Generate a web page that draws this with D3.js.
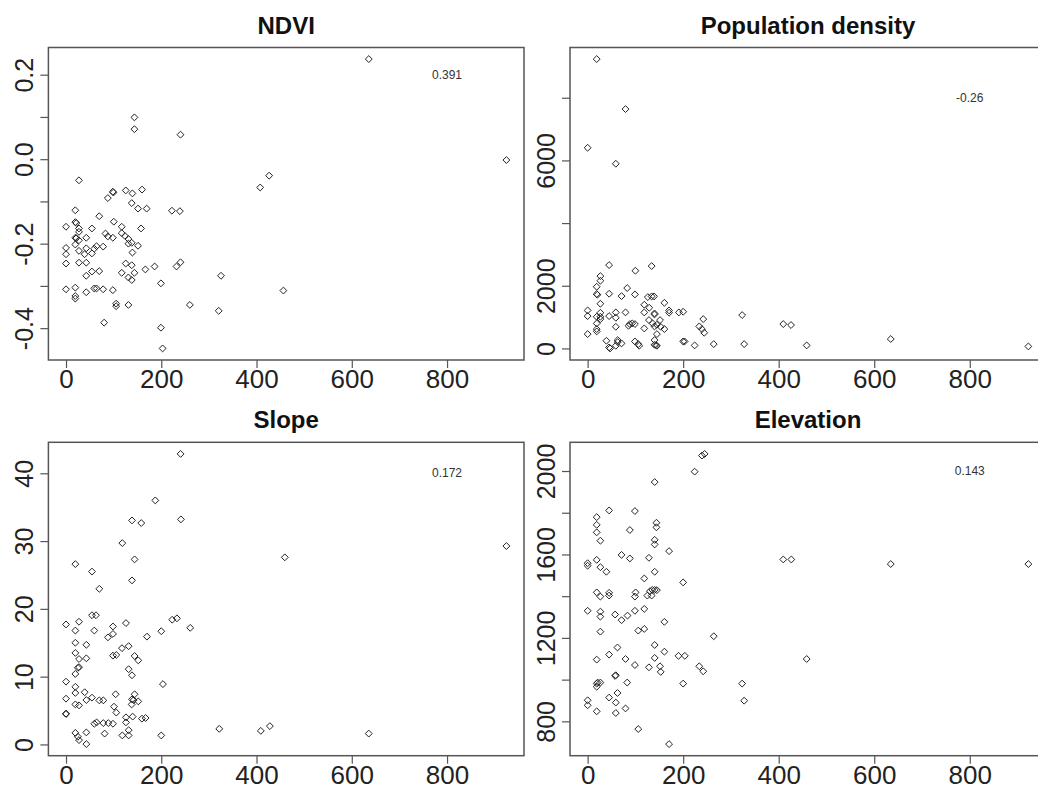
<!DOCTYPE html>
<html>
<head>
<meta charset="utf-8">
<script src="https://cdn.jsdelivr.net/npm/d3@7"></script>
<style>
  body { margin: 0; background: #fff; }
  svg { display: block; font-family: 'Liberation Sans', Arial, sans-serif; }
</style>
</head>
<body>
<svg id="chart" width="1038" height="794"></svg>
<script>
'use strict';

// shared x axis ticks
var xTicks = [0, 200, 400, 600, 800];

// NDVI
var ndviPoints = [
  [143.6, 0.099], [143.6, 0.071], [240.4, 0.058], [27.2, -0.050], [407.7, -0.067], [426.5, -0.039],
  [98.3, -0.077], [99.5, -0.079], [125.4, -0.074], [139.4, -0.081], [159.6, -0.072], [87.8, -0.092],
  [138, -0.104], [151.2, -0.117], [169.3, -0.117], [222.3, -0.122], [239, -0.123], [19.5, -0.121],
  [69.7, -0.135], [19.5, -0.149], [21.6, -0.151], [0, -0.160], [27.2, -0.164], [27.2, -0.172],
  [54.4, -0.164], [100.3, -0.148], [117, -0.160], [157.5, -0.164], [19.5, -0.186], [21.6, -0.187],
  [27.2, -0.192], [42.5, -0.186], [82.9, -0.176], [87.8, -0.183], [98.3, -0.186], [117, -0.175],
  [124, -0.182], [131, -0.189], [131, -0.200], [138, -0.198], [151.2, -0.205], [139.4, -0.221],
  [19.5, -0.202], [0, -0.210], [0, -0.225], [27.2, -0.217], [42.5, -0.211], [39, -0.225],
  [54.4, -0.223], [59.2, -0.212], [64.1, -0.206], [78, -0.207], [0, -0.247], [27.2, -0.245],
  [42.5, -0.245], [42.5, -0.276], [54.4, -0.266], [69.7, -0.265], [125.4, -0.247], [138, -0.251],
  [117, -0.269], [131, -0.280], [138, -0.286], [143.6, -0.269], [166.6, -0.261], [186, -0.254],
  [232, -0.254], [240.4, -0.244], [0, -0.308], [19.5, -0.304], [19.5, -0.324], [19.5, -0.330],
  [42.5, -0.315], [59.2, -0.306], [64.1, -0.306], [78, -0.308], [98.3, -0.310], [199.3, -0.294],
  [105.2, -0.342], [105.2, -0.348], [131, -0.345], [260, -0.345], [320.6, -0.359], [325.4, -0.276],
  [456.4, -0.311], [80, -0.387], [199.3, -0.399], [202.8, -0.448], [635.7, 0.237], [924.6, -0.002]
];
var ndviTicks = [-0.4, -0.3, -0.2, -0.1, 0, 0.1, 0.2];
var ndviLabels = ['-0.4', '', '-0.2', '', '0.0', '', '0.2'];

// Population density
var popPoints = [
  [19, 9234], [79.3, 7638], [0, 6404], [59, 5894], [45, 2660], [134, 2628], [100, 2479],
  [26.7, 2309], [26.7, 2160], [19, 1968], [19, 1734], [20.4, 1713], [45, 1745], [71, 1670],
  [82.8, 1926], [99, 1723], [126, 1638], [134, 1660], [139, 1660], [160.7, 1457], [0, 1213],
  [0, 1032], [26.7, 1426], [26.7, 1138], [19, 1011], [26.7, 1011], [45, 1032], [59, 1149],
  [59, 979], [79.3, 1149], [118.6, 1394], [118.6, 1149], [129, 1298], [140, 1117], [140, 1085],
  [170.5, 1213], [170.5, 1138], [191, 1149], [200, 1170], [242, 936], [323.5, 1064], [19, 798],
  [19, 617], [19, 543], [26.7, 936], [0, 457], [59, 691], [85.6, 723], [88.4, 777], [93.3, 798],
  [99, 777], [128.4, 904], [136, 798], [140, 702], [151.6, 904], [145, 755], [153, 691],
  [160.7, 617], [145, 457], [118.6, 638], [233.7, 702], [239.3, 617], [244, 500], [39.3, 245],
  [45, 32], [47, 0], [63, 266], [63, 202], [59, 85], [71, 160], [99, 223], [106, 138], [108, 85],
  [140, 266], [140, 117], [143, 106], [145, 85], [200, 223], [203, 223], [224, 96], [264, 138],
  [327.7, 138], [409.6, 778], [425.8, 746], [458.6, 96], [634.6, 300], [922.7, 64]
];
var popTicks = [0, 2000, 4000, 6000, 8000];
var popLabels = ['0', '2000', '', '6000', ''];

// Slope
var slopePoints = [
  [240.6, 42.86], [187.4, 36.0], [241.3, 33.2], [138.5, 33.05], [158, 32.66], [118.2, 29.7],
  [144, 27.3], [19.6, 26.6], [54.5, 25.5], [138.5, 24.2], [69.9, 22.96], [54.5, 19.06],
  [62.9, 19.06], [0, 17.7], [27.3, 18.1], [98.6, 17.4], [125.9, 17.9], [223, 18.4], [232.9, 18.6],
  [260.8, 17.2], [19.6, 16.8], [59.4, 16.8], [98.6, 16.3], [88.1, 15.8], [170, 15.9], [200, 16.7],
  [19.6, 15.0], [42.7, 14.7], [131.5, 14.5], [117.5, 14.2], [19.6, 13.5], [27.3, 12.6],
  [42.7, 12.7], [98.6, 13.1], [105.6, 13.2], [144, 13.05], [151.7, 12.4], [27.3, 11.4], [25, 11.3],
  [131.5, 11.1], [138.5, 10.2], [19.6, 10.4], [0, 9.26], [203.5, 8.9], [19.6, 8.5], [19.6, 7.6],
  [39.2, 7.7], [104.2, 7.4], [0, 6.75], [42.7, 6.55], [54.5, 6.9], [69.9, 6.5], [78.3, 6.5],
  [138.5, 6.65], [144, 7.4], [142, 6.55], [151.7, 6.35], [19.6, 5.9], [27.3, 5.76], [100.7, 5.57],
  [105.6, 4.7], [0, 4.48], [0, 4.55], [137.8, 5.9], [59.4, 3.05], [64.3, 3.25], [78.3, 3.15],
  [88.8, 3.15], [98.6, 3.05], [125.9, 3.25], [125.9, 4.0], [139.9, 4.1], [159.4, 3.8], [167.1, 3.9],
  [131.5, 2.1], [131.5, 1.33], [118.2, 1.33], [81.1, 1.6], [19.6, 1.7], [25, 1.13], [27.3, 0.64],
  [42.7, 1.77], [42.7, 0.05], [200, 1.33], [321.7, 2.3], [409, 2.0], [428, 2.7], [459.4, 27.6],
  [924.6, 29.27], [635.6, 1.6]
];
var slopeTicks = [0, 10, 20, 30, 40];
var slopeLabels = ['0', '10', '20', '30', '40'];

// Elevation
var elevPoints = [
  [239.3, 2074], [245, 2082], [224, 1997], [140.4, 1947], [45, 1811], [99, 1808], [19, 1779],
  [19, 1742], [19, 1706], [26.7, 1666], [88.4, 1717], [144, 1752], [144, 1730], [140.4, 1670],
  [140.4, 1648], [170.5, 1616], [71, 1598], [88.4, 1581], [128.4, 1584], [19, 1574], [0, 1558],
  [0, 1546], [26.7, 1539], [39.3, 1517], [140.4, 1517], [118.6, 1485], [200, 1466], [19, 1418],
  [26.7, 1398], [45, 1416], [45, 1403], [100.4, 1418], [99, 1398], [125, 1403], [134, 1403],
  [135.4, 1430], [140.4, 1430], [145, 1429], [130.5, 1424], [0, 1330], [26.7, 1326], [26.7, 1302],
  [57.5, 1312], [71, 1285], [83.5, 1307], [99, 1330], [118.6, 1339], [160.7, 1277], [26.7, 1230],
  [106, 1235], [118.6, 1243], [264, 1208], [140.4, 1166], [62.5, 1154], [160.7, 1134], [45, 1120],
  [190.2, 1114], [203.5, 1114], [19, 1096], [79.3, 1099], [140.4, 1104], [99, 1070], [128.4, 1059],
  [151.6, 1064], [153, 1037], [233.7, 1064], [242, 1040], [57.5, 1018], [59, 1021], [82.8, 986],
  [26.7, 986], [19, 981], [21, 986], [19, 966], [200, 981], [323.5, 981], [327.7, 899], [45, 914],
  [62.5, 936], [0, 901], [0, 877], [59, 890], [79.3, 862], [19, 848], [59, 840], [106, 763],
  [170.5, 691], [409.6, 1576], [426.4, 1576], [458.6, 1099], [634.6, 1554], [922.7, 1554]
];
var elevTicks = [800, 1000, 1200, 1400, 1600, 1800, 2000];
var elevLabels = ['800', '', '1200', '', '1600', '', '2000'];

// correlation notes, written at x = 800 and the top tick
var noteTexts = ['0.391', '-0.26', '0.172', '0.143'];
var noteY = [0.2, 8000, 40, 2000];

var titles = ['NDVI', 'Population density', 'Slope', 'Elevation'];

var panels = [
  {points: ndviPoints, ticks: ndviTicks, labels: ndviLabels},
  {points: popPoints, ticks: popTicks, labels: popLabels},
  {points: slopePoints, ticks: slopeTicks, labels: slopeLabels},
  {points: elevPoints, ticks: elevTicks, labels: elevLabels}
];

// plot box edges, left/right per column and top/bottom per row
var cols = [[48.4, 524], [570, 1046]],
    rows = [[47.5, 360], [442.3, 755.7]];

var svg = d3.select('#chart'),
    ink = '#222',
    frame = '#555';

// R-style axis range: data extent plus 4% on each side
var padExtent = function (values) {
  var e = d3.extent(values),
      pad = (e[1] - e[0]) * 0.04;
  return [e[0] - pad, e[1] + pad];
};

panels.forEach(function (p, i) {
  var col = cols[i % 2],
      row = rows[Math.floor(i / 2)],
      w = col[1] - col[0],
      h = row[1] - row[0],
      g, x, y, xAxis, yAxis;

  g = svg.append('g').attr('transform', 'translate(' + col[0] + ',' + row[0] + ')');

  x = d3.scaleLinear()
      .domain(padExtent(p.points.map(function (d) { return d[0]; })))
      .range([0, w]);
  y = d3.scaleLinear()
      .domain(padExtent(p.points.map(function (d) { return d[1]; })))
      .range([h, 0]);

  g.append('rect')
      .attr('width', w)
      .attr('height', h)
      .attr('fill', 'none')
      .attr('stroke', frame)
      .attr('stroke-width', 1.5);

  xAxis = g.append('g')
      .attr('transform', 'translate(0,' + h + ')')
      .call(d3.axisBottom(x).tickValues(xTicks).tickSize(8).tickFormat(d3.format('d')));
  xAxis.attr('font-size', null).attr('font-family', null);
  xAxis.select('.domain').remove();
  xAxis.selectAll('line').attr('stroke', frame).attr('stroke-width', 1.2);
  xAxis.selectAll('text')
      .attr('y', 28)
      .attr('dy', null)
      .attr('fill', ink)
      .style('font-size', '26px');

  yAxis = g.append('g')
      .call(d3.axisLeft(y).tickValues(p.ticks).tickSize(8)
        .tickFormat(function (d, k) { return p.labels[k]; }));
  yAxis.attr('font-size', null).attr('font-family', null);
  yAxis.select('.domain').remove();
  yAxis.selectAll('line').attr('stroke', frame).attr('stroke-width', 1.2);
  yAxis.selectAll('text')
      .attr('x', 0)
      .attr('dy', null)
      .attr('text-anchor', 'middle')
      .attr('transform', 'translate(-15.5,0) rotate(-90)')
      .attr('fill', ink)
      .style('font-size', '25px');

  g.append('text')
      .attr('x', w / 2)
      .attr('y', -14)
      .attr('text-anchor', 'middle')
      .attr('font-weight', 'bold')
      .attr('font-size', 24)
      .attr('fill', '#111')
      .text(titles[i]);

  g.append('text')
      .attr('x', x(800))
      .attr('y', y(noteY[i]))
      .attr('dy', '0.35em')
      .attr('text-anchor', 'middle')
      .attr('font-size', 12)
      .attr('fill', '#333')
      .text(noteTexts[i]);

  g.selectAll('path.pt')
      .data(p.points)
      .join('path')
      .attr('class', 'pt')
      .attr('d', d3.symbol(d3.symbolDiamond2, 30))
      .attr('transform', function (d) {
        return 'translate(' + x(d[0]) + ',' + y(d[1]) + ')';
      })
      .attr('fill', 'none')
      .attr('stroke', '#222')
      .attr('stroke-width', 1);
});
</script>
</body>
</html>
